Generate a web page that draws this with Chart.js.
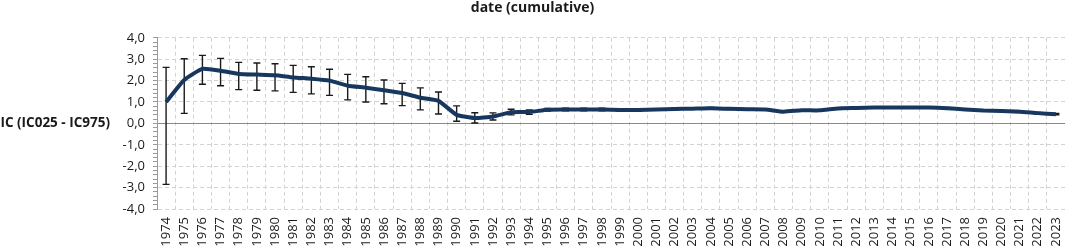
<!DOCTYPE html>
<html><head><meta charset="utf-8">
<script src="https://cdn.jsdelivr.net/npm/chart.js@4/dist/chart.umd.min.js"></script>
<style>html,body{margin:0;padding:0;background:#fff;}#wrap{width:1065px;height:248px;position:relative;}</style>
</head><body><div id="wrap"><canvas id="c" width="1065" height="248"></canvas></div>
<script>
const years = ['1974','1975','1976','1977','1978','1979','1980','1981','1982','1983','1984','1985','1986','1987','1988','1989','1990','1991','1992','1993','1994','1995','1996','1997','1998','1999','2000','2001','2002','2003','2004','2005','2006','2007','2008','2009','2010','2011','2012','2013','2014','2015','2016','2017','2018','2019','2020','2021','2022','2023'];
const icValues = [1.00,2.03,2.55,2.46,2.31,2.28,2.25,2.15,2.09,2.00,1.76,1.67,1.55,1.42,1.20,1.05,0.40,0.25,0.32,0.52,0.53,0.64,0.65,0.65,0.65,0.63,0.63,0.65,0.67,0.69,0.71,0.68,0.66,0.65,0.55,0.61,0.61,0.70,0.72,0.74,0.74,0.74,0.74,0.71,0.65,0.60,0.58,0.55,0.48,0.43];
const ic025 = [-2.85,0.47,1.83,1.76,1.58,1.55,1.52,1.45,1.38,1.31,1.10,1.00,0.92,0.83,0.63,0.44,0.10,0.02,0.16,0.40,0.43,0.58,0.59,0.59,0.59,0.57,0.57,0.61,0.63,0.66,0.68,0.65,0.63,0.62,0.52,0.58,0.58,0.67,0.69,0.71,0.71,0.71,0.71,0.68,0.62,0.57,0.55,0.52,0.45,0.40];
const ic975 = [2.62,3.02,3.18,3.04,2.85,2.82,2.79,2.71,2.65,2.53,2.29,2.18,2.03,1.87,1.66,1.47,0.82,0.50,0.49,0.66,0.63,0.70,0.71,0.71,0.71,0.69,0.69,0.69,0.71,0.72,0.74,0.71,0.69,0.68,0.58,0.64,0.64,0.73,0.75,0.77,0.77,0.77,0.77,0.74,0.68,0.63,0.61,0.58,0.51,0.46];
const yMin = -4, yMax = 4, yMinorStep = 0.2;
const titleText = 'date (cumulative)';
const yTitleText = 'IC (IC025 - IC975)';

const FONT = '"Open Sans", Lato, sans-serif';
const isInt = v => Math.abs(v - Math.round(v)) < 1e-6;

const errorBars = {
  id: 'errorBars',
  beforeDatasetsDraw(chart) {
    const ctx = chart.ctx, xs = chart.scales.x, ys = chart.scales.y;
    ctx.save();
    ctx.strokeStyle = '#1a1a1a';
    ctx.lineWidth = 1.4;
    for (let i = 0; i < years.length; i++) {
      const x = xs.getPixelForValue(i);
      const y1 = ys.getPixelForValue(ic025[i]);
      const y2 = ys.getPixelForValue(ic975[i]);
      ctx.beginPath();
      ctx.moveTo(x, y1); ctx.lineTo(x, y2);
      ctx.moveTo(x - 3.5, y1); ctx.lineTo(x + 3.5, y1);
      ctx.moveTo(x - 3.5, y2); ctx.lineTo(x + 3.5, y2);
      ctx.stroke();
    }
    ctx.restore();
  }
};

const yTitle = {
  id: 'yTitle',
  afterDraw(chart) {
    const ctx = chart.ctx, ys = chart.scales.y;
    ctx.save();
    ctx.font = 'bold 13.5px ' + FONT;
    ctx.fillStyle = '#1a1a1a';
    ctx.textAlign = 'right';
    ctx.textBaseline = 'middle';
    ctx.fillText(yTitleText, 110, ys.getPixelForValue(0));
    ctx.restore();
  }
};

new Chart(document.getElementById('c'), {
  type: 'line',
  data: {
    labels: years,
    datasets: [{
      data: icValues,
      borderColor: '#17375e',
      borderWidth: 4,
      pointRadius: 0,
      tension: 0.15,
      fill: false
    }]
  },
  options: {
    responsive: false,
    animation: false,
    layout: { padding: { left: 0, right: 0, top: 0, bottom: 0 } },
    plugins: {
      legend: { display: false },
      tooltip: { enabled: false },
      title: {
        display: true, text: titleText, color: '#1a1a1a',
        font: { family: FONT, size: 14, weight: 'bold', lineHeight: 1.2 },
        padding: { top: 0, bottom: 21 }
      }
    },
    scales: {
      x: {
        offset: true,
        grid: { offset: true, color: '#d3d3d3', drawTicks: false },
        border: { display: false, dash: [4, 3] },
        ticks: {
          autoSkip: false, minRotation: 90, maxRotation: 90, padding: 8,
          color: '#1a1a1a', font: { family: FONT, size: 13 }
        },
        afterFit(s) { s.height = 39; s.paddingLeft = 0; s.paddingRight = 0; }
      },
      y: {
        min: yMin, max: yMax,
        grid: {
          color: c => (c.tick && isInt(c.tick.value)) ? (Math.abs(c.tick.value) < 1e-6 ? '#8a8a8a' : '#d3d3d3') : 'rgba(0,0,0,0)',
          tickColor: '#9a9a9a',
          tickLength: 4
        },
        border: {
          display: true, color: '#9a9a9a',
          dash: c => (c.tick && Math.abs(c.tick.value) > 1e-6) ? [4, 3] : []
        },
        ticks: {
          stepSize: yMinorStep, autoSkip: false, maxTicksLimit: 100, padding: 8,
          color: '#1a1a1a', font: { family: FONT, size: 13 },
          callback: v => isInt(v) ? Number(v).toFixed(1).replace('.', ',') : ''
        },
        afterFit(s) { s.width = 157; }
      }
    }
  },
  plugins: [errorBars, yTitle]
});
</script></body></html>
